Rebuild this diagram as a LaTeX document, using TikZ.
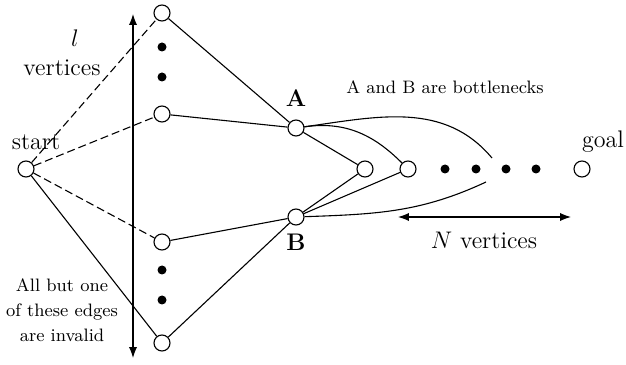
\documentclass[tikz,border=0pt]{standalone}
\usetikzlibrary{positioning, arrows.meta}
\begin{document}
\begin{tikzpicture}[x=0.5pt, y=0.5pt, line width=0.55pt, >=Latex,
            vertex/.style={circle, draw, fill=white, minimum size=8pt, inner sep=0pt},
            blob/.style={circle, fill=black, minimum size=4.5pt, inner sep=0pt},
            pruned/.style={dash pattern=on 4pt off 2pt}]
          \useasboundingbox (0,0) rectangle (626,364);
          % left column of l vertices
          \node[vertex] (start) at (26,195) {};
          \node[vertex] (top) at (162,351) {};
          \node[vertex] (upper) at (162,250) {};
          \node[vertex] (lower) at (162,122) {};
          \node[vertex] (bottom) at (162,21) {};
          \foreach \y in {317,287,94,64}
            \node[blob] at (162,\y) {};
          % bottlenecks and chain
          \node[vertex] (A) at (296,236) {};
          \node[vertex] (B) at (296,147) {};
          \node[vertex] (m1) at (365,195) {};
          \node[vertex] (m2) at (408,195) {};
          \foreach \x in {445,476,506,536}
            \node[blob] at (\x,195) {};
          \node[vertex] (goal) at (582,195) {};
          \coordinate (tailA) at (492,206);
          \coordinate (tailB) at (486,182);
          \path[draw] (start) edge[pruned] (top)
                (start) edge[pruned] (upper)
                (start) edge[pruned] (lower)
                (start) edge (bottom)
                (top) edge (A)
                (upper) edge (A)
                (lower) edge (B)
                (bottom) edge (B)
                (A) edge (m1)
                (B) edge (m1)
                (B) edge (m2);
          \draw (A) to[out=8, in=135] (m2);
          \draw (A) to[out=8, in=130] (tailA);
          \draw (B) to[out=2, in=205] (tailB);
          % arrows
          \coordinate (vtop) at (133,350);
          \coordinate (vbot) at (133,6);
          \draw[<->] (vbot) -- (vtop);
          \coordinate (nleft) at (398,147);
          \coordinate (nright) at (571,147);
          \draw[<->] (nleft) -- (nright);
          % labels
          \node[font=\large] (lcount) at (75,326) {$l$};
          \node[font=\large] (lverts) at (62,296) {vertices};
          \node[font=\large] (startlab) at (36,222) {start};
          \node[font=\large] (goallab) at (603,222) {goal};
          \node[font=\large\bfseries, above=3pt of A] (Alab) {A};
          \node[font=\large\bfseries, below=0.5pt of B] (Blab) {B};
          \node[font=\small] (note) at (445,277) {A and B are bottlenecks};
          \node[font=\large, below=4pt of nleft, anchor=north, xshift=43pt] (nlab) {$N$ vertices};
          \node[font=\small, align=center, execute at begin node={\setlength{\baselineskip}{12.5pt}}] (invalid) at (62,54) {All but one\\of these edges\\are invalid};
        \end{tikzpicture}
\end{document}
